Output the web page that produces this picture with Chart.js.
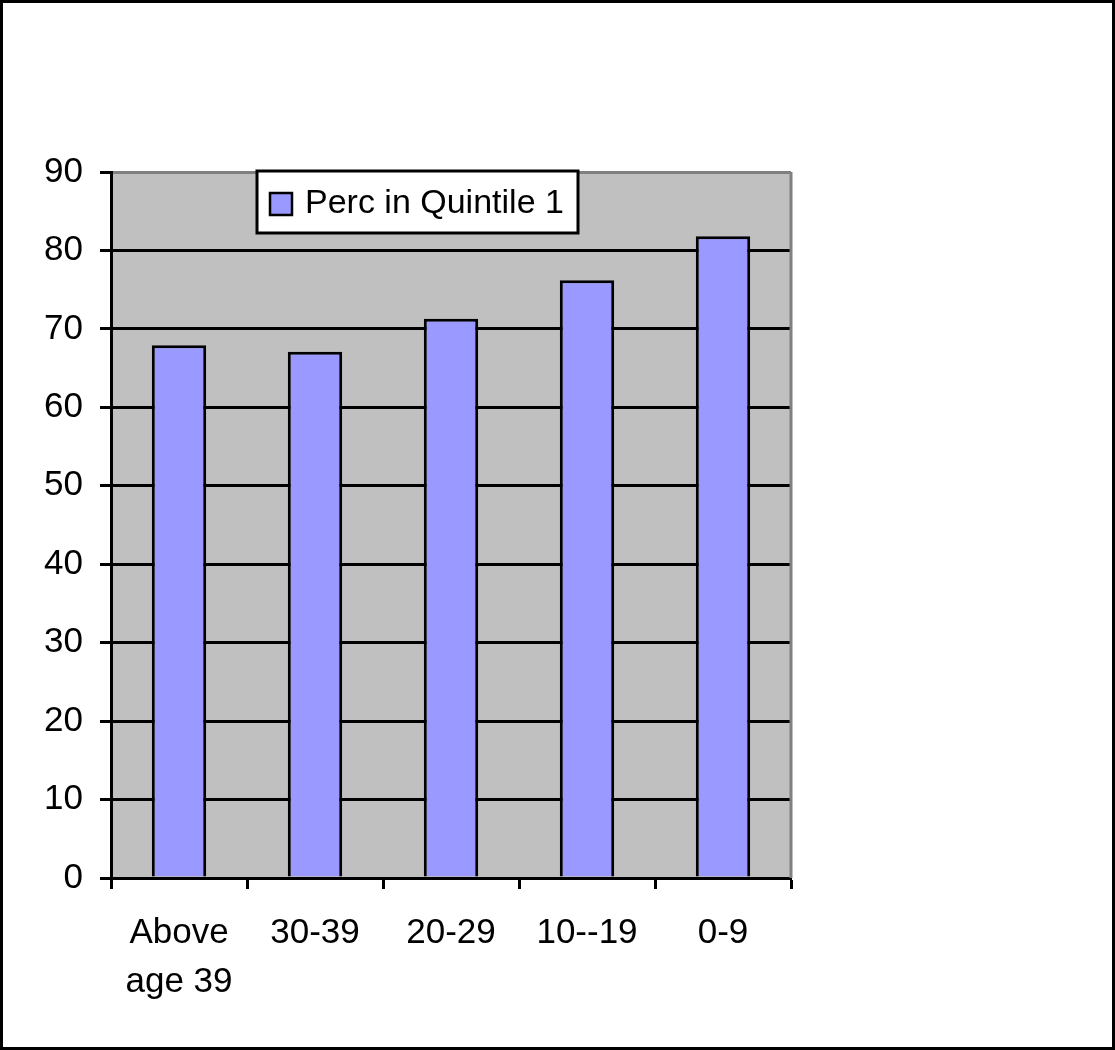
<!DOCTYPE html>
<html>
<head>
<meta charset="utf-8">
<script src="https://cdn.jsdelivr.net/npm/chart.js@4"></script>
<style>
  body { margin: 0; background: #fff; }
  canvas { display: block; }
</style>
</head>
<body>
<canvas id="myChart" width="1115" height="1050" style="width:1115px;height:1050px"></canvas>
<script>
// data
const ageGroups = [["Above", "age 39"], "30-39", "20-29", "10--19", "0-9"];
const percQuintile1 = [67.9, 67.1, 71.3, 76.2, 81.8];
const seriesName = "Perc in Quintile 1";

const FONT = "'Liberation Sans', Arial, sans-serif";

// grey plot background, plot border, outer frame and the boxed legend
const decor = {
    id: "decor",
    beforeDraw(chart) {
        const ctx = chart.ctx;
        const a = chart.chartArea;
        ctx.save();
        ctx.fillStyle = "#fff";
        ctx.fillRect(0, 0, chart.width, chart.height);
        ctx.fillStyle = "#c0c0c0";
        ctx.fillRect(a.left, a.top, a.right - a.left, a.bottom - a.top);
        ctx.restore();
    },
    afterDatasetsDraw(chart) {
        const ctx = chart.ctx;
        const a = chart.chartArea;
        ctx.save();
        // right border of plot
        ctx.strokeStyle = "#808080";
        ctx.lineWidth = 3;
        ctx.beginPath();
        ctx.moveTo(a.right, a.top);
        ctx.lineTo(a.right, a.bottom);
        ctx.stroke();
        ctx.restore();
    },
    afterDraw(chart) {
        const ctx = chart.ctx;
        const ds = chart.data.datasets[0];
        ctx.save();
        // legend box
        ctx.fillStyle = "#fff";
        ctx.fillRect(257, 171, 321, 62);
        ctx.strokeStyle = "#000";
        ctx.lineWidth = 3;
        ctx.strokeRect(257, 171, 321, 62);
        ctx.fillStyle = ds.backgroundColor;
        ctx.fillRect(270, 193, 22, 22);
        ctx.lineWidth = 2.5;
        ctx.strokeRect(270, 193, 22, 22);
        ctx.fillStyle = "#000";
        ctx.font = "34px " + FONT;
        ctx.textBaseline = "middle";
        ctx.fillText(ds.label, 305, 204);
        // outer frame
        ctx.lineWidth = 3;
        ctx.strokeRect(1.5, 1.5, chart.width - 3, chart.height - 3);
        ctx.restore();
    }
};

new Chart(document.getElementById("myChart"), {
    type: "bar",
    data: {
        labels: ageGroups,
        datasets: [{
            label: seriesName,
            data: percQuintile1,
            backgroundColor: "#9999ff",
            borderColor: "#000",
            borderWidth: 3,
            categoryPercentage: 1,
            barPercentage: 0.4
        }]
    },
    options: {
        responsive: false,
        animation: false,
        layout: { padding: { top: 172, right: 324, bottom: 0, left: 0 } },
        plugins: {
            legend: { display: false },
            tooltip: { enabled: false }
        },
        scales: {
            x: {
                afterFit: s => { s.height = 172; },
                grid: {
                    offset: true,
                    drawOnChartArea: false,
                    drawTicks: true,
                    tickLength: 11,
                    tickColor: "#000",
                    tickWidth: 3
                },
                border: { color: "#000", width: 3 },
                ticks: {
                    color: "#000",
                    padding: 19,
                    maxRotation: 0,
                    font: { family: FONT, size: 35, lineHeight: 1.42 }
                }
            },
            y: {
                min: 0,
                max: 90,
                afterFit: s => { s.width = 111; },
                grid: {
                    color: c => (c.tick && c.tick.value === 90 ? "#808080" : "#000"),
                    lineWidth: 3,
                    tickLength: 11,
                    tickColor: "#000",
                    tickWidth: 3
                },
                border: { color: "#000", width: 3 },
                ticks: {
                    stepSize: 10,
                    color: "#000",
                    padding: 17,
                    font: { family: FONT, size: 35 }
                }
            }
        }
    },
    plugins: [decor]
});
</script>
</body>
</html>
